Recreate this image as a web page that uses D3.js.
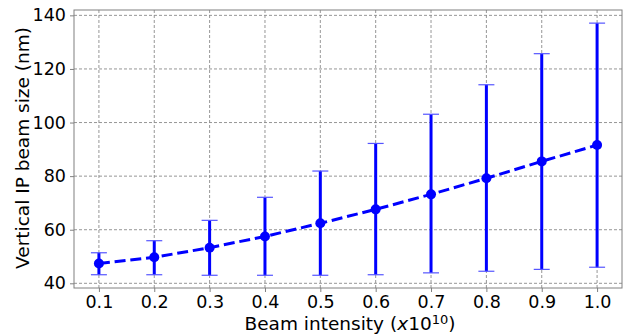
<!DOCTYPE html>
<html>
<head>
<meta charset="utf-8">
<script src="https://cdn.jsdelivr.net/npm/d3@7"></script>
<style>
  body { margin: 0; background: #fff; }
  svg { font-family: "DejaVu Sans", sans-serif; }
</style>
</head>
<body>
<svg id="chart" width="625" height="336"></svg>
<script>
// values
const intensity = [0.1, 0.2, 0.3, 0.4, 0.5, 0.6, 0.7, 0.8, 0.9, 1.0];
const beamSize  = [47.4, 49.7, 53.3, 57.5, 62.4, 67.6, 73.2, 79.2, 85.5, 91.6];
const errLow    = [43.2, 43.2, 43.0, 43.0, 43.0, 43.2, 43.9, 44.5, 45.2, 46.0];
const errHigh   = [51.4, 55.9, 63.5, 72.1, 81.9, 92.2, 103.1, 114.1, 125.7, 137.1];
const xTicks = [0.1, 0.2, 0.3, 0.4, 0.5, 0.6, 0.7, 0.8, 0.9, 1.0];
const yTicks = [40, 60, 80, 100, 120, 140];

const svg = d3.select("#chart");
const margin = {top: 10, right: 3, bottom: 48, left: 74};
const width = 625 - margin.left - margin.right;
const height = 336 - margin.top - margin.bottom;

const g = svg.append("g")
  .attr("transform", "translate(" + margin.left + "," + margin.top + ")");

const x = d3.scaleLinear().domain([0.055, 1.045]).range([0, width]);
const y = d3.scaleLinear().domain([38.25, 142]).range([height, 0]);

// grid
g.append("g").selectAll("line")
  .data(xTicks).enter().append("line")
  .attr("x1", d => x(d)).attr("x2", d => x(d))
  .attr("y1", 0).attr("y2", height)
  .attr("stroke", "#8a8a8a").attr("stroke-width", 0.9)
  .attr("stroke-dasharray", "3,2");
g.append("g").selectAll("line")
  .data(yTicks).enter().append("line")
  .attr("x1", 0).attr("x2", width)
  .attr("y1", d => y(d)).attr("y2", d => y(d))
  .attr("stroke", "#8a8a8a").attr("stroke-width", 0.9)
  .attr("stroke-dasharray", "3,2");

// axes
const xAxis = g.append("g")
  .attr("transform", "translate(0," + height + ")")
  .call(d3.axisBottom(x).tickValues(xTicks).tickFormat(d3.format(".1f")).tickSize(4).tickPadding(4));
const yAxis = g.append("g")
  .call(d3.axisLeft(y).tickValues(yTicks).tickSize(4).tickPadding(4));
[xAxis, yAxis].forEach(a => {
  a.select(".domain").remove();
  a.selectAll(".tick line").attr("stroke", "#808080");
  a.selectAll(".tick text")
    .attr("fill", "#000")
    .style("font-size", "17.5px")
    .style("font-family", "DejaVu Sans");
});

// frame
g.append("rect")
  .attr("width", width).attr("height", height)
  .attr("fill", "none").attr("stroke", "#808080").attr("stroke-width", 1);

const data = intensity.map((v, i) => ({x: v, y: beamSize[i], lo: errLow[i], hi: errHigh[i]}));

// error bars
const eb = g.append("g").selectAll("g").data(data).enter().append("g");
eb.append("line")
  .attr("x1", d => x(d.x)).attr("x2", d => x(d.x))
  .attr("y1", d => y(d.lo)).attr("y2", d => y(d.hi))
  .attr("stroke", "#0000ff").attr("stroke-width", 3);
["lo", "hi"].forEach(k => {
  eb.append("line")
    .attr("x1", d => x(d.x) - 8).attr("x2", d => x(d.x) + 8)
    .attr("y1", d => y(d[k])).attr("y2", d => y(d[k]))
    .attr("stroke", "#5555ff").attr("stroke-width", 1.2);
});

// dashed line
g.append("path")
  .datum(data)
  .attr("fill", "none")
  .attr("stroke", "#0000ff")
  .attr("stroke-width", 3)
  .attr("stroke-dasharray", "11,4.8")
  .attr("d", d3.line().x(d => x(d.x)).y(d => y(d.y)));

g.append("g").selectAll("circle")
  .data(data).enter().append("circle")
  .attr("cx", d => x(d.x)).attr("cy", d => y(d.y))
  .attr("r", 5)
  .attr("fill", "#0000ff");

// axis labels
const xl = svg.append("text")
  .attr("x", margin.left + width / 2 + 2).attr("y", 330)
  .attr("text-anchor", "middle")
  .style("font-size", "18.5px");
xl.append("tspan").text("Beam intensity (");
xl.append("tspan").style("font-style", "italic").text("x");
xl.append("tspan").text("10");
xl.append("tspan").attr("dy", -6.5).style("font-size", "13px").text("10");
xl.append("tspan").attr("dy", 6.5).text(")");

svg.append("text")
  .attr("transform", "translate(29," + (margin.top + height / 2 - 1) + ") rotate(-90)")
  .attr("text-anchor", "middle")
  .style("font-size", "18.5px")
  .text("Vertical IP beam size (nm)");
</script>
</body>
</html>
